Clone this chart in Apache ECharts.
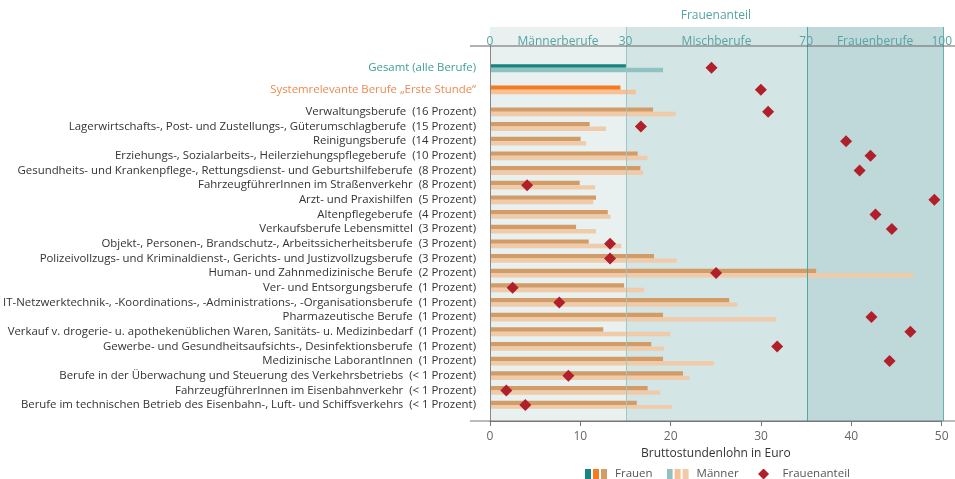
<!DOCTYPE html>
<html><head><meta charset="utf-8">
<script src="https://cdn.jsdelivr.net/npm/echarts@6/dist/echarts.min.js"></script>
<style>html,body{margin:0;padding:0;background:#fff}#c{width:955px;height:479px}</style>
</head><body><div id="c"></div>
<script>
const categories = [
  'Gesamt (alle Berufe)',
  'Systemrelevante Berufe „Erste Stunde“',
  'Verwaltungsberufe  (16 Prozent)',
  'Lagerwirtschafts-, Post- und Zustellungs-, Güterumschlagberufe  (15 Prozent)',
  'Reinigungsberufe  (14 Prozent)',
  'Erziehungs-, Sozialarbeits-, Heilerziehungspflegeberufe  (10 Prozent)',
  'Gesundheits- und Krankenpflege-, Rettungsdienst- und Geburtshilfeberufe  (8 Prozent)',
  'FahrzeugführerInnen im Straßenverkehr  (8 Prozent)',
  'Arzt- und Praxishilfen  (5 Prozent)',
  'Altenpflegeberufe  (4 Prozent)',
  'Verkaufsberufe Lebensmittel  (3 Prozent)',
  'Objekt-, Personen-, Brandschutz-, Arbeitssicherheitsberufe  (3 Prozent)',
  'Polizeivollzugs- und Kriminaldienst-, Gerichts- und Justizvollzugsberufe  (3 Prozent)',
  'Human- und Zahnmedizinische Berufe  (2 Prozent)',
  'Ver- und Entsorgungsberufe  (1 Prozent)',
  'IT-Netzwerktechnik-, -Koordinations-, -Administrations-, -Organisationsberufe  (1 Prozent)',
  'Pharmazeutische Berufe  (1 Prozent)',
  'Verkauf v. drogerie- u. apothekenüblichen Waren, Sanitäts- u. Medizinbedarf  (1 Prozent)',
  'Gewerbe- und Gesundheitsaufsichts-, Desinfektionsberufe  (1 Prozent)',
  'Medizinische LaborantInnen  (1 Prozent)',
  'Berufe in der Überwachung und Steuerung des Verkehrsbetriebs  (< 1 Prozent)',
  'FahrzeugführerInnen im Eisenbahnverkehr  (< 1 Prozent)',
  'Berufe im technischen Betrieb des Eisenbahn-, Luft- und Schiffsverkehrs  (< 1 Prozent)'
];
const wageWomen = [15.0, 14.4, 18.0, 11.0, 10.0, 16.3, 16.6, 9.9, 11.7, 13.0, 9.5, 10.9, 18.1, 36.0, 14.8, 26.4, 19.1, 12.5, 17.8, 19.1, 21.3, 17.4, 16.2];
const wageMen   = [19.1, 16.1, 20.5, 12.8, 10.6, 17.4, 16.9, 11.6, 11.4, 13.3, 11.7, 14.5, 20.6, 46.7, 17.0, 27.3, 31.6, 19.9, 19.2, 24.7, 22.0, 18.8, 20.1];
const shareWomen = [48.9, 59.8, 61.4, 33.3, 78.6, 84.0, 81.6, 8.2, 98.1, 85.1, 88.7, 26.5, 26.5, 49.9, 5.0, 15.3, 84.2, 92.8, 63.4, 88.2, 17.3, 3.6, 7.8];
const bandBounds = [0, 30, 70, 100];
const bandNames = ['Männerberufe', 'Mischberufe', 'Frauenberufe'];
const shareTicks = [0, 30, 70, 100];

// layout: half-slot category axis with extra gaps after the first two rows
function slotOf(i) { return i === 0 ? 0 : i === 1 ? 3 : 6 + 2 * (i - 2); }
const nSlots = slotOf(categories.length - 1) + 1;
const yCats = [];
for (let s = 0; s < nSlots; s++) yCats.push('#' + s);
categories.forEach((c, i) => { yCats[slotOf(i)] = c; });

const teal = '#56a3a1';
const womenColors = ['#16857f', '#f47b20', '#d39b65'];
const menColors = ['#8fc2c1', '#f8c095', '#f0cba9'];
const pick = (arr, i) => arr[Math.min(i, 2)];

function svgIcon(inner) {
  return 'image://data:image/svg+xml;charset=utf-8,' + encodeURIComponent(
    "<svg xmlns='http://www.w3.org/2000/svg' width='25' height='11' viewBox='0 0 25 11'>" + inner + "</svg>");
}
const rects = cols => cols.map((c, k) => "<rect x='" + (k * 8) + "' y='0' width='6' height='11' fill='" + c + "'/>").join('');
const iconWomen = svgIcon(rects(womenColors));
const iconMen = svgIcon(rects(menColors));
const iconDiamond = svgIcon("<path d='M11 0 L16.5 5.5 L11 11 L5.5 5.5 Z' fill='#b01f2a'/>");

const L = 490, R = 12, B = 58;
const chart = echarts.init(document.getElementById('c'), null, {renderer: 'canvas'});
chart.setOption({
  animation: false,
  textStyle: {fontFamily: 'Open Sans'},
  grid: [
    {left: L, right: R, top: 27, bottom: B},
    {left: L, right: R, top: 46, bottom: B},
    {left: L, right: R, top: 64.2, bottom: 70.3}
  ],
  graphic: [
    {type: 'line', z: 10, shape: {x1: 470, y1: 46, x2: 955, y2: 46}, style: {stroke: '#666', lineWidth: 1}},
    {type: 'line', z: 10, shape: {x1: 470, y1: 421, x2: 955, y2: 421}, style: {stroke: '#777', lineWidth: 1}}
  ],
  xAxis: [
    {gridIndex: 0, type: 'value', min: 0, max: 100, show: false},
    {gridIndex: 1, type: 'value', position: 'top', min: 0, max: 100, interval: 10, z: 5,
      axisLine: {show: true, lineStyle: {color: '#666'}}, axisTick: {show: false}, splitLine: {show: false},
      axisLabel: {margin: -2, color: teal, fontSize: 12, formatter: v => shareTicks.includes(v) ? String(v) : ''},
      name: 'Frauenanteil', nameLocation: 'middle', nameGap: 24, nameTextStyle: {color: teal, fontSize: 12}},
    {gridIndex: 1, type: 'value', position: 'bottom', min: 0, max: 50, interval: 10, z: 5,
      axisLine: {show: true, lineStyle: {color: '#777'}}, axisTick: {show: true, length: 5, lineStyle: {color: '#777'}},
      splitLine: {show: false}, axisLabel: {margin: 10, color: '#666', fontSize: 12},
      name: 'Bruttostundenlohn in Euro', nameLocation: 'middle', nameGap: 19, nameTextStyle: {color: '#333', fontSize: 12}},
    {gridIndex: 2, type: 'value', min: 0, max: 50, show: false},
    {gridIndex: 2, type: 'value', min: 0, max: 100, show: false}
  ],
  yAxis: [
    {gridIndex: 0, type: 'value', min: 0, max: 1, show: false},
    {gridIndex: 1, type: 'value', min: 0, max: 1, z: 5, axisLine: {show: true, lineStyle: {color: '#888'}},
      axisTick: {show: false}, axisLabel: {show: false}, splitLine: {show: false}},
    {gridIndex: 2, type: 'category', inverse: true, data: yCats,
      axisLine: {show: false}, axisTick: {show: false},
      axisLabel: {interval: 0, margin: 14, color: '#333', fontSize: 11.4,
        formatter: v => v.charAt(0) === '#' ? '' : v === categories[0] ? '{g|' + v + '}' : v === categories[1] ? '{o|' + v + '}' : v,
        rich: {g: {color: '#3f9d97', fontSize: 11.4}, o: {color: '#ee8a50', fontSize: 11.4}}}}
  ],
  legend: {
    left: 580, top: 463, itemWidth: 25, itemHeight: 11, itemGap: 14,
    textStyle: {color: '#555', fontSize: 11.5},
    data: [{name: 'Frauen', icon: iconWomen}, {name: 'Männer', icon: iconMen}, {name: 'Frauenanteil', icon: iconDiamond}]
  },
  series: [
    {type: 'line', xAxisIndex: 0, yAxisIndex: 0, data: [], z: 1, silent: true,
      markArea: {silent: true,
        label: {show: true, position: 'insideTop', distance: 9, color: teal, fontSize: 12},
        data: bandNames.map((n, k) => [
          {name: n, xAxis: bandBounds[k], itemStyle: {color: ['#e8f0f0', '#d4e5e5', '#bfd9db'][k]}},
          {xAxis: bandBounds[k + 1]}])},
      markLine: {silent: true, symbol: 'none', label: {show: false},
        data: [
          {xAxis: 30, lineStyle: {color: '#a5c4c4', width: 1, type: 'solid'}},
          {xAxis: 70, lineStyle: {color: '#4fa7a0', width: 1, type: 'solid'}},
          {xAxis: 100, lineStyle: {color: '#62b5ae', width: 1, type: 'solid'}}
        ]}},
    {name: 'Frauen', type: 'bar', xAxisIndex: 3, yAxisIndex: 2, barWidth: 4.4, barGap: '0%', z: 2,
      data: categories.map((c, i) => [wageWomen[i], c]),
      itemStyle: {color: p => pick(womenColors, p.dataIndex)}},
    {name: 'Männer', type: 'bar', xAxisIndex: 3, yAxisIndex: 2, barWidth: 4.4, barGap: '0%', z: 2,
      data: categories.map((c, i) => [wageMen[i], c]),
      itemStyle: {color: p => pick(menColors, p.dataIndex)}},
    {name: 'Frauenanteil', type: 'scatter', xAxisIndex: 4, yAxisIndex: 2, symbol: 'diamond', symbolSize: [12, 12], z: 4,
      data: categories.map((c, i) => [shareWomen[i], c]),
      itemStyle: {color: '#b01f2a', opacity: 1}}
  ]
});
</script></body></html>
